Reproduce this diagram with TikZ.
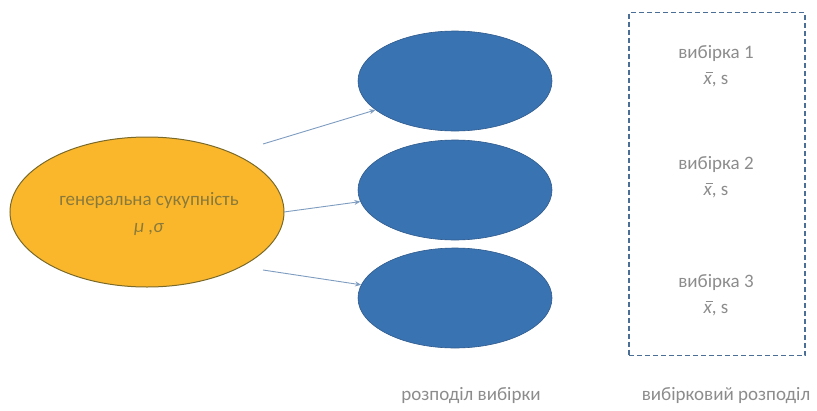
\documentclass[tikz,border=0pt]{standalone}
\usepackage{fontspec}
\setmainfont{Carlito}
\usetikzlibrary{shapes.geometric,arrows.meta}
\definecolor{popfill}{HTML}{FBB72C}
\definecolor{popdraw}{HTML}{7A6A2A}
\definecolor{smpfill}{HTML}{3A73B2}
\definecolor{smpdraw}{HTML}{2E5A8C}
\definecolor{txtgray}{HTML}{8C8C8C}
\definecolor{poptxt}{HTML}{8A7A3A}
\definecolor{arrowc}{HTML}{7E9CC0}
\definecolor{boxc}{HTML}{4A6E96}
\newcommand\xbarmark{\leavevmode\hbox{\rlap{\kern2pt\raise 11.5pt\hbox{\rule{7pt}{0.8pt}}}\textit{x}}}
\tikzset{
  popnode/.style={ellipse, fill=popfill, draw=popdraw, line width=1pt, minimum width=274pt, minimum height=150pt, inner sep=0pt},
  smpnode/.style={ellipse, fill=smpfill, draw=smpdraw, line width=0.6pt, minimum width=194pt, minimum height=100pt, inner sep=0pt},
  lbl/.style={text=txtgray, font=\fontsize{19}{27}\selectfont, align=center},
  tlbl/.style={lbl, inner sep=0pt, anchor=base},
  conn/.style={draw=arrowc, line width=0.9pt, -{Stealth[length=6pt,width=5pt]}},
  framebox/.style={draw=boxc, dashed, line width=1.6pt, dash pattern=on 5pt off 3pt}
}
\begin{document}
\begin{tikzpicture}[x=1pt,y=-1pt]
\useasboundingbox (0,0) rectangle (817,410);
\node[popnode] (pop) at (147,212) {};
\node[lbl, text=poptxt] (poptxt) at (149,214) {генеральна сукупність\\\textit{μ ,σ}};
\node[smpnode] (s1) at (455,81) {};
\node[smpnode] (s2) at (455,190) {};
\node[smpnode] (s3) at (455,298) {};
\coordinate (a1) at (263,144);
\coordinate (a2) at (284,212);
\coordinate (a3) at (263,270);
\draw[conn] (a1) -- (s1.200);
\draw[conn] (a2) -- (s2.187);
\draw[conn] (a3) -- (s3.172);
\node[framebox, minimum width=176pt, minimum height=343pt, inner sep=0pt] (box) at (717,184) {};
\node[tlbl] (v1) at (716,58) {вибірка 1};
\node[tlbl] (x1) at (716,84) {\xbarmark, s};
\node[tlbl] (v2) at (716,169) {вибірка 2};
\node[tlbl] (x2) at (716,195) {\xbarmark, s};
\node[tlbl] (v3) at (716,287) {вибірка 3};
\node[tlbl] (x3) at (716,313) {\xbarmark, s};
\node[lbl] (l1) at (471,396) {розподіл вибірки};
\node[lbl] (l2) at (726,396) {вибірковий розподіл};
\end{tikzpicture}
\end{document}
